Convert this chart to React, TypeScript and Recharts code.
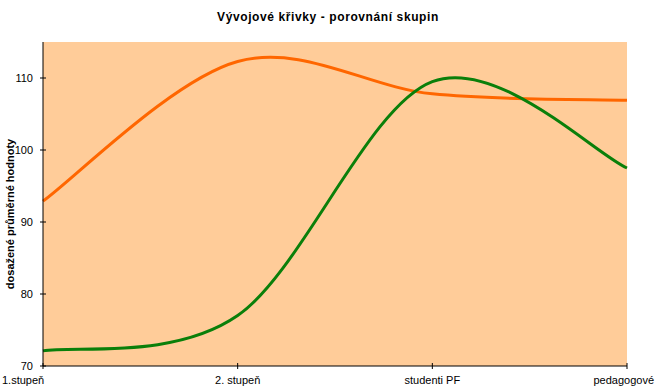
import React from 'react';
import { LineChart, Line, XAxis, YAxis, CartesianGrid, Label } from 'recharts';

const categories = ['1.stupeň', '2. stupeň', 'studenti PF', 'pedagogové'];
const orangeValues = [92.9, 112.3, 107.8, 106.9];
const greenValues = [72.1, 77.0, 109.5, 97.5];
const yTicks = [70, 80, 90, 100, 110];

const data = categories.map((c, i) => ({ cat: c, orange: orangeValues[i], green: greenValues[i] }));

// Excel-like smoothing (Catmull-Rom / cardinal, tension 0)
const smoothCurve = (context: any) => {
  let xs: number[] = [];
  let ys: number[] = [];
  return {
    areaStart() {},
    areaEnd() {},
    lineStart() { xs = []; ys = []; },
    point(x: number, y: number) { xs.push(+x); ys.push(+y); },
    lineEnd() {
      const n = xs.length;
      if (!n) return;
      context.moveTo(xs[0], ys[0]);
      if (n === 1) return;
      for (let i = 0; i < n - 1; i++) {
        const p0 = Math.max(0, i - 1);
        const p3 = Math.min(n - 1, i + 2);
        const c1x = xs[i] + (xs[i + 1] - xs[p0]) / 6;
        const c1y = ys[i] + (ys[i + 1] - ys[p0]) / 6;
        const c2x = xs[i + 1] - (xs[p3] - xs[i]) / 6;
        const c2y = ys[i + 1] - (ys[p3] - ys[i]) / 6;
        context.bezierCurveTo(c1x, c1y, c2x, c2y, xs[i + 1], ys[i + 1]);
      }
    },
  };
};

const font = '"Liberation Sans", Arial, sans-serif';

const XTick = (props: any) => {
  const { x, y, payload, index } = props;
  const last = index === categories.length - 1;
  const first = index === 0;
  const anchor = first ? 'start' : last ? 'end' : 'middle';
  const dx = first ? -41 : last ? 27 : 0;
  return (
    <g>
      <line x1={x} x2={x} y1={y - 3} y2={y + 3} stroke="#000" strokeWidth={1} />
      <text x={x + dx} y={y + 18} textAnchor={anchor} fontSize={11} fontFamily={font} fill="#000">
        {payload.value}
      </text>
    </g>
  );
};

const YTick = (props: any) => {
  const { x, y, payload } = props;
  return (
    <g>
      <line x1={x - 3} x2={x + 3} y1={y} y2={y} stroke="#000" strokeWidth={1} />
      <text x={x - 10} y={y + 4} textAnchor="end" fontSize={11} fontFamily={font} fill="#000">
        {payload.value}
      </text>
    </g>
  );
};

export default function App() {
  return (
    <div style={{ position: 'absolute', left: 0, top: 0, width: 656, height: 390, background: '#fff' }}>
      <div
        style={{
          position: 'absolute',
          left: 0,
          top: 10,
          width: 656,
          textAlign: 'center',
          fontFamily: font,
          fontWeight: 'bold',
          fontSize: 12,
          letterSpacing: 0.6,
        }}
      >
        Vývojové křivky - porovnání skupin
      </div>
      <LineChart width={656} height={390} data={data} margin={{ top: 42, right: 29, bottom: 0, left: 0 }}>
        <CartesianGrid horizontal={false} vertical={false} fill="#FFCC99" />
        <XAxis
          dataKey="cat"
          height={24}
          tickLine={false}
          tickSize={0}
          tickMargin={0}
          tick={<XTick />}
          interval={0}
          axisLine={{ stroke: '#000', strokeWidth: 1 }}
        />
        <YAxis
          width={43}
          domain={[70, 115]}
          ticks={yTicks}
          tickLine={false}
          tickSize={0}
          tickMargin={0}
          tick={<YTick />}
          axisLine={{ stroke: '#000', strokeWidth: 1 }}
        >
          <Label
            value="dosažené průměrné hodnoty"
            angle={-90}
            position="insideLeft"
            offset={0}
            dx={10}
            dy={10}
            style={{ fontFamily: font, fontWeight: 'bold', fontSize: 11, fill: '#000', textAnchor: 'middle' }}
          />
        </YAxis>
        <Line
          dataKey="orange"
          type={smoothCurve as any}
          stroke="#FF6600"
          strokeWidth={3}
          dot={false}
          isAnimationActive={false}
        />
        <Line
          dataKey="green"
          type={smoothCurve as any}
          stroke="#0A7F0A"
          strokeWidth={3}
          dot={false}
          isAnimationActive={false}
        />
      </LineChart>
    </div>
  );
}
